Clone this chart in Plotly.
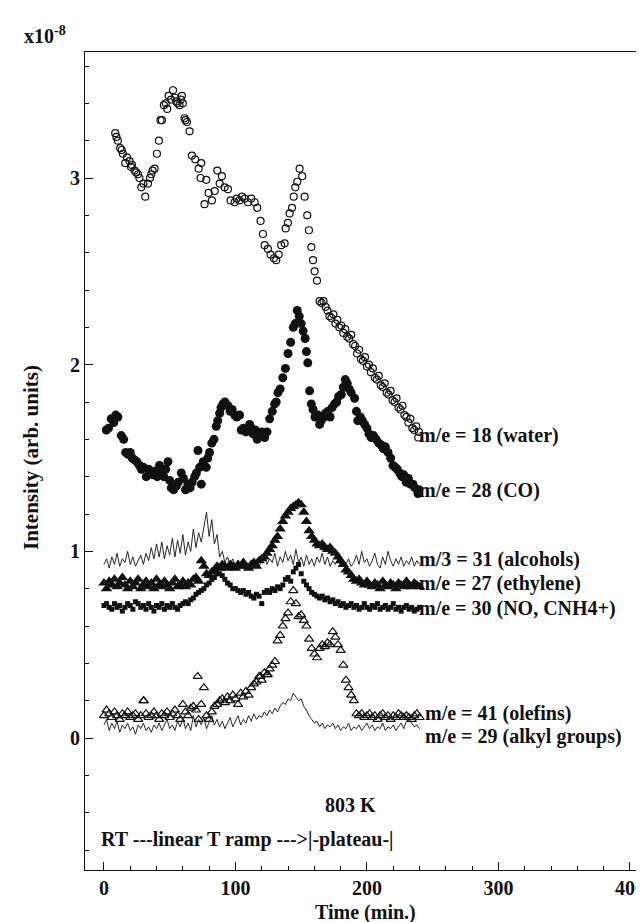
import plotly.graph_objects as go

# ---------------- data ----------------
# common sampling times (min.)
T2 = [0, 2, 4, 6, 8, 10, 12, 14, 16, 18, 20, 22, 24, 26, 28, 30, 32, 34, 36, 38,
      40, 42, 44, 46, 48, 50, 52, 54, 56, 58, 60, 62, 64, 66, 68, 70, 72, 74, 76, 78,
      80, 82, 84, 86, 88, 90, 92, 94, 96, 98, 100, 102, 104, 106, 108, 110, 112, 114, 116, 118,
      120, 122, 124, 126, 128, 130, 132, 134, 136, 138, 140, 142, 144, 146, 148, 150, 152, 154, 156, 158,
      160, 162, 164, 166, 168, 170, 172, 174, 176, 178, 180, 182, 184, 186, 188, 190, 192, 194, 196, 198,
      200, 202, 204, 206, 208, 210, 212, 214, 216, 218, 220, 222, 224, 226, 228, 230, 232, 234, 236, 238, 240]

# m/e = 18 (water), open circles
WATER_T = [8.6, 9.5, 10.6, 12.4, 13.5, 14.4, 16.2, 17.5, 19.5, 20.5, 21.3, 23.3, 24.5, 25.9, 27.0, 28.4,
           30.0, 31.4, 33.5, 35.0, 36.0, 37.0, 38.5, 40.3, 41.8, 43.0, 44.1, 45.6, 47.0, 48.1, 49.2, 51.0,
           52.5, 54.0, 55.0, 56.0, 57.5, 58.5, 59.3, 60.0, 61.3, 62.0, 63.1, 65.1, 66.9, 69.4, 72.0, 73.5,
           74.0, 76.5, 77.8, 79.6, 82.1, 84.2, 86.2, 88.0, 89.7, 91.8, 94.3, 96.3, 99.4, 101.0, 103.0, 105.0,
           107.0, 109.5, 112.0, 114.6, 116.6, 119.1, 120.9, 122.2, 124.7, 126.7, 129.3, 131.0, 132.9, 134.8,
           137.4, 138.2, 139.9, 141.2, 143.0, 144.3, 145.5, 147.0, 148.8, 150.8, 152.6, 154.6, 155.9, 157.7,
           159.0, 160.2, 162.0, 164.0, 165.5, 167.0, 168.5, 170.0, 171.5, 173.0, 174.5, 176.0, 177.5, 179.0,
           180.5, 182.0, 183.5, 185.0, 186.5, 188.0, 189.5, 191.0, 192.5, 194.0, 195.5, 197.0, 198.5, 200.0,
           201.5, 203.0, 204.5, 206.0, 207.5, 209.0, 210.5, 212.0, 213.5, 215.0, 216.5, 218.0, 219.5, 221.0,
           222.5, 224.0, 225.5, 227.0, 228.5, 230.0, 231.5, 233.0, 234.5, 236.0, 237.5, 239.0, 239.5]
WATER_V = [3.24, 3.22, 3.20, 3.16, 3.15, 3.13, 3.08, 3.11, 3.09, 3.06, 3.07, 3.04, 3.03, 3.02, 3.00, 2.95,
           2.97, 2.90, 2.97, 3.00, 3.02, 3.04, 3.05, 3.13, 3.20, 3.31, 3.31, 3.39, 3.40, 3.37, 3.44, 3.42,
           3.47, 3.43, 3.41, 3.40, 3.39, 3.42, 3.44, 3.40, 3.32, 3.31, 3.30, 3.25, 3.12, 3.10, 3.05, 3.00,
           3.08, 2.86, 2.99, 2.92, 2.88, 2.93, 3.04, 2.97, 3.01, 2.95, 2.94, 2.88, 2.87, 2.89, 2.88, 2.90,
           2.89, 2.87, 2.89, 2.87, 2.84, 2.77, 2.70, 2.64, 2.62, 2.59, 2.57, 2.56, 2.59, 2.64,
           2.65, 2.73, 2.76, 2.81, 2.84, 2.90, 2.95, 2.98, 3.05, 3.01, 2.90, 2.80, 2.72, 2.63,
           2.56, 2.50, 2.45, 2.34, 2.33, 2.34, 2.31, 2.29, 2.26, 2.25, 2.27, 2.22, 2.24, 2.20,
           2.21, 2.17, 2.19, 2.15, 2.14, 2.16, 2.11, 2.10, 2.06, 2.08, 2.03, 2.02, 2.04, 1.99,
           2.00, 1.96, 1.98, 1.93, 1.92, 1.94, 1.89, 1.88, 1.90, 1.85, 1.84, 1.86, 1.81, 1.80,
           1.82, 1.77, 1.76, 1.78, 1.73, 1.72, 1.69, 1.71, 1.66, 1.65, 1.67, 1.61, 1.64]

# m/e = 28 (CO), filled circles
CO_T = [1.8, 3.5, 5.5, 7.5, 9.0, 10.6, 13.2, 15.0, 16.5, 18.3, 20.0, 21.5, 23.3, 25.0, 27.0, 28.5, 30.0,
        32.2, 34.0, 35.5, 37.3, 39.0, 40.5, 42.3, 44.0, 45.5, 47.0, 48.7, 50.0, 51.2, 53.0, 55.0, 56.5,
        58.8, 60.5, 62.0, 63.9, 65.5, 67.0, 69.0, 70.3, 71.5, 72.8, 74.0, 75.5, 77.8, 79.0, 80.3, 82.0,
        83.7, 85.4, 86.5, 88.0, 89.0, 90.5, 92.0, 94.3, 96.0, 97.5, 99.4, 101.0, 103.2, 104.4, 106.0,
        108.0, 110.8, 112.0, 113.3, 115.0, 116.5, 118.4, 120.0, 122.2, 124.0, 126.0, 128.0, 129.8, 131.0,
        132.3, 134.0, 136.0, 138.0, 140.0, 142.0, 144.0, 145.5, 147.0, 148.5, 150.0, 151.5, 153.0, 154.0,
        155.0, 156.4, 157.7, 159.0, 160.5, 162.7, 164.0, 165.2, 167.0, 168.5, 170.3, 172.0, 173.5, 175.4,
        177.0, 178.5, 180.5, 182.0, 183.5, 185.0, 186.5, 188.0, 190.6, 192.0, 193.0, 195.0, 196.5, 198.2,
        200.0, 201.5, 203.3, 205.0, 207.0, 209.0, 210.9, 212.5, 214.0, 216.0, 218.0, 219.8, 221.5, 223.0,
        224.9, 226.5, 228.0, 229.9, 231.5, 233.0, 235.0, 236.5, 238.8, 239.5]
CO_V = [1.65, 1.66, 1.71, 1.69, 1.73, 1.72, 1.62, 1.60, 1.53, 1.52, 1.53, 1.50, 1.49, 1.48, 1.46, 1.44, 1.45,
        1.40, 1.44, 1.42, 1.41, 1.43, 1.40, 1.46, 1.42, 1.40, 1.44, 1.48, 1.38, 1.34, 1.33, 1.35, 1.37,
        1.42, 1.39, 1.33, 1.36, 1.34, 1.37, 1.40, 1.42, 1.54, 1.45, 1.36, 1.48, 1.45, 1.50, 1.53, 1.58,
        1.60, 1.67, 1.70, 1.74, 1.77, 1.79, 1.80, 1.78, 1.75, 1.76, 1.73, 1.72, 1.73, 1.65, 1.66,
        1.64, 1.68, 1.66, 1.63, 1.65, 1.60, 1.62, 1.64, 1.61, 1.64, 1.71, 1.75, 1.79, 1.80,
        1.85, 1.87, 1.93, 1.98, 2.06, 2.12, 2.20, 2.22, 2.29, 2.26, 2.22, 2.18, 2.14, 2.07,
        2.01, 1.86, 1.79, 1.76, 1.72, 1.73, 1.68, 1.70, 1.72, 1.74, 1.75, 1.72, 1.77, 1.79,
        1.80, 1.83, 1.84, 1.88, 1.92, 1.90, 1.87, 1.85, 1.82, 1.75, 1.70, 1.72, 1.70, 1.68,
        1.66, 1.63, 1.61, 1.62, 1.60, 1.58, 1.57, 1.55, 1.56, 1.53, 1.50, 1.46, 1.45, 1.44,
        1.42, 1.40, 1.41, 1.37, 1.39, 1.36, 1.36, 1.34, 1.31, 1.33]

# m/3 = 31 (alcohols), thin line
ALCOHOL_V = [0.93, 0.96, 0.91, 0.97, 0.93, 0.99, 0.92, 0.96, 0.94, 1.00, 0.93, 0.97, 0.92, 0.95, 0.98, 0.93,
             0.99, 0.95, 1.02, 0.96, 1.04, 0.97, 1.05, 0.96, 1.03, 0.98, 1.07, 0.97, 1.06, 0.99, 1.09, 0.98,
             1.05, 1.00, 1.12, 1.02, 1.10, 1.05, 1.14, 1.21, 1.08, 1.17, 1.04, 1.09, 0.97, 1.00, 0.94, 0.97,
             0.93, 0.96, 0.92, 0.95, 0.93, 0.96, 0.94, 0.92, 0.95, 0.93, 0.96, 0.92, 0.95, 0.97, 0.93, 0.96,
             0.94, 0.99, 0.92, 0.97, 0.94, 1.00, 0.95, 0.98, 0.93, 1.01, 0.94, 0.97, 0.92, 0.98, 0.93, 0.96,
             0.92, 0.97, 0.94, 0.99, 0.93, 0.97, 0.92, 0.95, 0.93, 0.96, 0.92, 0.94, 0.93, 0.96, 0.92, 0.94,
             0.98, 0.93, 1.00, 0.94, 0.96, 0.92, 0.95, 0.99, 0.93, 0.91, 0.97, 0.93, 1.00, 0.95, 0.92, 0.96,
             0.93, 0.97, 0.92, 0.95, 0.93, 0.97, 0.92, 0.95, 0.93]

# m/e = 27 (ethylene), filled triangles
ETHYLENE_V = [0.83, 0.80, 0.84, 0.82, 0.85, 0.81, 0.83, 0.86, 0.82, 0.80, 0.84, 0.81, 0.83, 0.85, 0.80, 0.82,
              0.84, 0.81, 0.83, 0.80, 0.85, 0.82, 0.81, 0.84, 0.82, 0.80, 0.83, 0.85, 0.81, 0.82, 0.84, 0.81,
              0.83, 0.82, 0.85, 0.86, 0.84, 0.95, 0.92, 0.88, 0.87, 0.89, 0.90, 0.92, 0.91, 0.93, 0.92, 0.91,
              0.93, 0.92, 0.91, 0.93, 0.92, 0.94, 0.92, 0.91, 0.93, 0.94, 0.92, 0.95, 0.96, 0.97, 0.99, 1.01,
              1.03, 1.06, 1.08, 1.12, 1.16, 1.19, 1.21, 1.23, 1.24, 1.25, 1.26, 1.25, 1.21, 1.16, 1.11, 1.08,
              1.06, 1.04, 1.03, 1.04, 1.02, 1.01, 1.02, 1.00, 0.99, 0.97, 0.95, 0.93, 0.90, 0.89, 0.87, 0.85,
              0.84, 0.85, 0.83, 0.82, 0.84, 0.82, 0.81, 0.83, 0.82, 0.80, 0.84, 0.82, 0.81, 0.83, 0.82, 0.80,
              0.83, 0.82, 0.81, 0.84, 0.82, 0.81, 0.83, 0.82, 0.81]

# m/e = 30 (NO, CNH4+), small filled squares
NO_V = [0.71, 0.72, 0.70, 0.69, 0.72, 0.70, 0.71, 0.68, 0.70, 0.72, 0.71, 0.69, 0.73, 0.72, 0.70, 0.71,
        0.69, 0.72, 0.70, 0.68, 0.71, 0.70, 0.72, 0.69, 0.71, 0.70, 0.72, 0.70, 0.69, 0.71, 0.72, 0.73,
        0.72, 0.74, 0.75, 0.77, 0.78, 0.79, 0.80, 0.82, 0.83, 0.85, 0.86, 0.88, 0.88, 0.87, 0.85, 0.83,
        0.82, 0.80, 0.80, 0.79, 0.78, 0.79, 0.77, 0.78, 0.76, 0.75, 0.77, 0.76, 0.72, 0.78, 0.79, 0.78,
        0.80, 0.79, 0.81, 0.80, 0.82, 0.85, 0.86, 0.84, 0.89, 0.91, 0.93, 0.88, 0.84, 0.82, 0.80, 0.78,
        0.77, 0.76, 0.75, 0.76, 0.74, 0.75, 0.73, 0.74, 0.72, 0.73, 0.71, 0.72, 0.70, 0.71, 0.72, 0.70,
        0.71, 0.69, 0.70, 0.72, 0.70, 0.69, 0.71, 0.70, 0.72, 0.69, 0.70, 0.71, 0.69, 0.70, 0.72, 0.69,
        0.70, 0.68, 0.70, 0.71, 0.69, 0.70, 0.68, 0.69, 0.70]

# m/e = 41 (olefins), open triangles
OLEFIN_V = [0.12, 0.15, 0.13, 0.11, 0.14, 0.12, 0.10, 0.13, 0.12, 0.14, 0.11, 0.12, 0.13, 0.10, 0.12, 0.20,
            0.13, 0.11, 0.12, 0.14, 0.12, 0.10, 0.13, 0.12, 0.14, 0.11, 0.13, 0.15, 0.12, 0.10, 0.18, 0.14,
            0.12, 0.16, 0.17, 0.15, 0.10, 0.18, 0.27, 0.12, 0.10, 0.14, 0.17, 0.18, 0.20, 0.21, 0.19, 0.22,
            0.20, 0.23, 0.21, 0.18, 0.24, 0.22, 0.25, 0.23, 0.27, 0.29, 0.30, 0.33, 0.31, 0.35, 0.34, 0.37,
            0.39, 0.41, 0.52, 0.55, 0.60, 0.64, 0.67, 0.73, 0.79, 0.72, 0.65, 0.66, 0.63, 0.60, 0.53, 0.48,
            0.45, 0.43, 0.48, 0.50, 0.49, 0.51, 0.50, 0.57, 0.54, 0.50, 0.47, 0.39, 0.31, 0.27, 0.23, 0.20,
            0.13, 0.12, 0.13, 0.11, 0.12, 0.13, 0.11, 0.12, 0.10, 0.12, 0.13, 0.11, 0.12, 0.10, 0.12, 0.11,
            0.13, 0.12, 0.11, 0.12, 0.11, 0.10, 0.12, 0.13, 0.11]
OLEFIN_EXTRA_T = [71.3, 30.3, 124.6, 119.0]
OLEFIN_EXTRA_V = [0.33, 0.20, 0.34, 0.33]

# m/e = 29 (alkyl groups), thin line
ALKYL_V = [0.07, 0.10, 0.04, 0.08, 0.05, 0.09, 0.03, 0.07, 0.05, 0.08, 0.04, 0.06, 0.02, 0.07, 0.05, 0.08,
           0.04, 0.06, 0.03, 0.07, 0.05, 0.08, 0.04, 0.07, 0.10, 0.05, 0.07, 0.04, 0.09, 0.06, 0.11, 0.05,
           0.08, 0.04, 0.12, 0.06, 0.10, 0.07, 0.11, 0.05, 0.09, 0.12, 0.07, 0.10, 0.06, 0.09, 0.05, 0.08,
           0.11, 0.06, 0.09, 0.12, 0.07, 0.10, 0.08, 0.12, 0.09, 0.13, 0.10, 0.12, 0.11, 0.14, 0.12, 0.15,
           0.13, 0.16, 0.14, 0.17, 0.19, 0.18, 0.21, 0.20, 0.24, 0.22, 0.20, 0.21, 0.17, 0.15, 0.12, 0.10,
           0.08, 0.09, 0.06, 0.08, 0.05, 0.07, 0.06, 0.08, 0.05, 0.07, 0.04, 0.06, 0.05, 0.08, 0.04, 0.06,
           0.05, 0.07, 0.04, 0.06, 0.08, 0.05, 0.07, 0.04, 0.06, 0.05, 0.08, 0.04, 0.06, 0.05, 0.07, 0.04,
           0.06, 0.08, 0.05, 0.09, 0.10, 0.08, 0.06, 0.07, 0.05]

LABELS = ["m/e = 18 (water)", "m/e = 28 (CO)", "m/3 = 31 (alcohols)", "m/e = 27 (ethylene)",
          "m/e = 30 (NO, CNH4+)", "m/e = 41 (olefins)", "m/e = 29 (alkyl groups)"]
X_TICKS = [0, 100, 200, 300, 400]
Y_TICKS = [0, 1, 2, 3]

# ---------------- figure ----------------
FONT = "Liberation Serif"
W, H = 644, 922
ML, MR, MT, MB = 77, 6, 44, 60
PW, PH = W - ML - MR, H - MT - MB


def px(x):
    return (x - ML) / PW


def py(y):
    return (H - MB - y) / PH


fig = go.Figure()
black = "#111111"

fig.add_trace(go.Scatter(x=T2, y=ALCOHOL_V, mode="lines",
                         line=dict(color=black, width=0.9), showlegend=False))
fig.add_trace(go.Scatter(x=T2, y=ALKYL_V, mode="lines",
                         line=dict(color=black, width=0.9), showlegend=False))
fig.add_trace(go.Scatter(x=WATER_T, y=WATER_V, mode="markers",
                         marker=dict(symbol="circle-open", size=7, color=black, line=dict(width=1.2)),
                         showlegend=False))
fig.add_trace(go.Scatter(x=CO_T, y=CO_V, mode="markers",
                         marker=dict(symbol="circle", size=9, color=black), showlegend=False))
fig.add_trace(go.Scatter(x=T2, y=ETHYLENE_V, mode="markers",
                         marker=dict(symbol="triangle-up", size=10, color=black), showlegend=False))
fig.add_trace(go.Scatter(x=T2, y=NO_V, mode="markers",
                         marker=dict(symbol="square", size=5, color=black), showlegend=False))
fig.add_trace(go.Scatter(x=T2 + OLEFIN_EXTRA_T, y=OLEFIN_V + OLEFIN_EXTRA_V, mode="markers",
                         marker=dict(symbol="triangle-up-open", size=8, color=black, line=dict(width=1.2)),
                         showlegend=False))

ann_font = dict(family=FONT, size=20, color=black, weight="bold")
label_pos = [(410, 427), (410, 482), (410, 551), (410, 575), (410, 600), (416, 705), (416, 728)]
annotations = []
for text, (x, y) in zip(LABELS, label_pos):
    annotations.append(dict(text=text, x=px(x), y=py(y), xref="paper", yref="paper",
                            xanchor="left", yanchor="middle", showarrow=False, font=ann_font,
                            borderpad=0))
annotations += [
    dict(text="803 K", x=px(342), y=py(797), xref="paper", yref="paper", xanchor="center",
         yanchor="middle", showarrow=False, font=ann_font),
    dict(text="RT ---linear T ramp --->|-plateau-|", x=px(91), y=py(831), xref="paper", yref="paper",
         xanchor="left", yanchor="middle", showarrow=False, font=ann_font),
    dict(text="x10<sup>-8</sup>", x=px(14), y=py(27), xref="paper", yref="paper", xanchor="left",
         yanchor="middle", showarrow=False, font=dict(family=FONT, size=20, color=black, weight="bold")),
    dict(text="Intensity (arb. units)", x=px(23), y=py(450), xref="paper", yref="paper",
         xanchor="center", yanchor="middle", textangle=-90, showarrow=False,
         font=dict(family=FONT, size=21, color=black, weight="bold")),
    dict(text="Time (min.)", x=px(357), y=py(904), xref="paper", yref="paper",
         xanchor="center", yanchor="middle", showarrow=False,
         font=dict(family=FONT, size=20, color=black, weight="bold")),
]

axis_common = dict(showgrid=False, zeroline=False, showline=True, linecolor=black, linewidth=1.2,
                   mirror=True, ticks="inside", ticklen=8, tickwidth=1.2, tickcolor=black,
                   tickfont=dict(family=FONT, size=20, color=black, weight="bold"))

fig.update_layout(
    width=W, height=H,
    margin=dict(l=ML, r=MR, t=MT, b=MB),
    paper_bgcolor="white", plot_bgcolor="white",
    xaxis=dict(range=[-14.4, 412.2], tickvals=X_TICKS, ticktext=[str(v) for v in X_TICKS],
               minor=dict(dtick=20, tick0=0, ticks="inside", ticklen=4, tickcolor=black), **axis_common),
    yaxis=dict(range=[-0.707, 3.675], tickvals=Y_TICKS, ticktext=[str(v) for v in Y_TICKS],
               minor=dict(dtick=0.2, tick0=0, ticks="inside", ticklen=4, tickcolor=black), **axis_common),
    annotations=annotations,
    showlegend=False,
)

fig.write_html("out.html")
